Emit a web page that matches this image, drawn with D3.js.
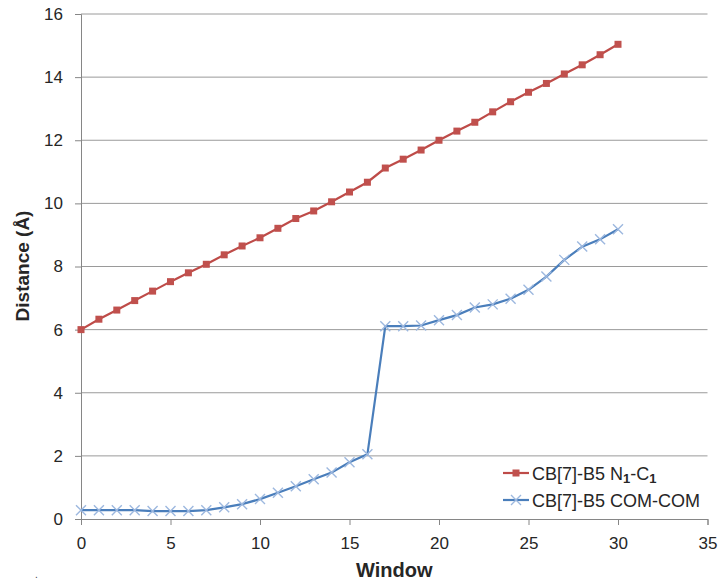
<!DOCTYPE html>
<html><head><meta charset="utf-8">
<script src="https://cdn.jsdelivr.net/npm/d3@7"></script>
<style>body{margin:0;background:#fff}svg{display:block}</style>
</head><body>
<svg id="c" width="724" height="585"></svg>
<script>
const windows = d3.range(0, 31);
const seriesNames = ["CB[7]-B5 N1-C1", "CB[7]-B5 COM-COM"];
const n1c1 = [6.0, 6.33, 6.62, 6.92, 7.22, 7.52, 7.8, 8.07, 8.37, 8.65, 8.91, 9.21, 9.52, 9.76, 10.05, 10.36, 10.67, 11.12, 11.4, 11.69, 12.0, 12.29, 12.57, 12.9, 13.22, 13.52, 13.8, 14.1, 14.39, 14.71, 15.04];
const comcom = [0.28, 0.28, 0.28, 0.28, 0.25, 0.25, 0.25, 0.28, 0.37, 0.47, 0.63, 0.83, 1.04, 1.26, 1.47, 1.8, 2.05, 6.11, 6.11, 6.13, 6.3, 6.46, 6.7, 6.8, 6.98, 7.26, 7.68, 8.21, 8.63, 8.86, 9.18];
const xTicks = [0, 5, 10, 15, 20, 25, 30, 35];
const yTicks = [0, 2, 4, 6, 8, 10, 12, 14, 16];

const svg = d3.select("#c");
const font = "'Liberation Sans', Arial, sans-serif";
const x = d3.scaleLinear().domain([0, 35]).range([81, 707.5]);
const y = d3.scaleLinear().domain([0, 16]).range([519, 14]);

// gridlines
svg.append("g").selectAll("line").data(yTicks.filter(d => d > 0)).join("line")
  .attr("x1", x(0)).attr("x2", x(35)).attr("y1", d => y(d)).attr("y2", d => y(d))
  .attr("stroke", "#9a9a9a").attr("stroke-width", 1);

// axes
const yAxis = svg.append("g").attr("transform", `translate(${x(0)},0)`)
  .call(d3.axisLeft(y).tickValues(yTicks).tickSize(6).tickPadding(12));
const xAxis = svg.append("g").attr("transform", `translate(0,${y(0)})`)
  .call(d3.axisBottom(x).tickValues(xTicks).tickSize(6).tickPadding(12));
[xAxis, yAxis].forEach(g => {
  g.select(".domain").attr("stroke", "#868686");
  g.selectAll(".tick line").attr("stroke", "#868686");
  g.selectAll("text").attr("font-family", font).attr("font-size", 17).attr("fill", "#262626");
});

// lines
const lineGen = d3.line().x((d, i) => x(windows[i])).y(d => y(d));
svg.append("path").datum(n1c1).attr("d", lineGen).attr("fill", "none")
  .attr("stroke", "#be4b48").attr("stroke-width", 2.2);
svg.append("path").datum(comcom).attr("d", lineGen).attr("fill", "none")
  .attr("stroke", "#4a7ebb").attr("stroke-width", 2.2);

// markers
const sq = 7;
svg.append("g").selectAll("rect").data(n1c1).join("rect")
  .attr("x", (d, i) => x(windows[i]) - sq / 2).attr("y", d => y(d) - sq / 2)
  .attr("width", sq).attr("height", sq).attr("fill", "#c0504d");
const xs = 5;
svg.append("g").selectAll("path").data(comcom).join("path")
  .attr("d", (d, i) => {
    const cx = x(windows[i]), cy = y(d);
    return `M${cx - xs},${cy - xs}L${cx + xs},${cy + xs}M${cx - xs},${cy + xs}L${cx + xs},${cy - xs}`;
  })
  .attr("stroke", "#9db8df").attr("stroke-width", 1.4).attr("fill", "none");

// axis titles
svg.append("text").attr("x", x(17.5)).attr("y", 577).attr("text-anchor", "middle")
  .attr("font-family", font).attr("font-weight", "bold").attr("font-size", 20).attr("fill", "#262626").text("Window");
svg.append("text").attr("transform", `translate(29,${266}) rotate(-90)`).attr("text-anchor", "middle")
  .attr("font-family", font).attr("font-weight", "bold").attr("font-size", 19).attr("fill", "#262626")
  .text("Distance  (Å)");

// legend
const leg = svg.append("g");
const legY = [473, 500];
// red
leg.append("line").attr("x1", 503).attr("x2", 529).attr("y1", legY[0]).attr("y2", legY[0])
  .attr("stroke", "#be4b48").attr("stroke-width", 2.2);
leg.append("rect").attr("x", 516 - sq / 2).attr("y", legY[0] - sq / 2).attr("width", sq).attr("height", sq).attr("fill", "#c0504d");
const t1 = leg.append("text").attr("x", 532).attr("y", legY[0] + 6.5)
  .attr("font-family", font).attr("font-size", 18).attr("fill", "#262626");
t1.append("tspan").text("CB[7]-B5 N");
t1.append("tspan").attr("font-size", 13).attr("font-weight", "bold").attr("dy", 3).text("1");
t1.append("tspan").attr("dy", -3).text("-C");
t1.append("tspan").attr("font-size", 13).attr("font-weight", "bold").attr("dy", 3).text("1");
// blue
leg.append("line").attr("x1", 503).attr("x2", 529).attr("y1", legY[1]).attr("y2", legY[1])
  .attr("stroke", "#4a7ebb").attr("stroke-width", 2.2);
leg.append("path").attr("d", `M${516 - xs},${legY[1] - xs}L${516 + xs},${legY[1] + xs}M${516 - xs},${legY[1] + xs}L${516 + xs},${legY[1] - xs}`)
  .attr("stroke", "#9db8df").attr("stroke-width", 1.4);
leg.append("text").attr("x", 532).attr("y", legY[1] + 6.5)
  .attr("font-family", font).attr("font-size", 18).attr("fill", "#262626").text("CB[7]-B5 COM-COM");

svg.append("text").attr("x", 35).attr("y", 578).attr("font-family", font).attr("font-size", 10).attr("fill", "#444").text(".");
</script>
</body></html>
